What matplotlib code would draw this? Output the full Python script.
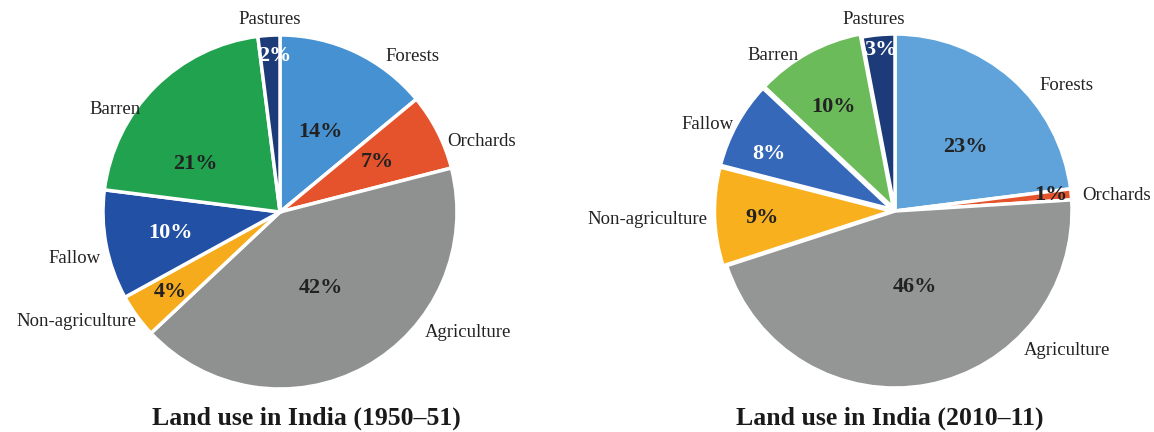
import matplotlib.pyplot as plt

# Land use categories (clockwise from the top)
categories = ['Forests', 'Orchards', 'Agriculture', 'Non-agriculture',
              'Fallow', 'Barren', 'Pastures']
share_1950 = [14, 7, 42, 4, 10, 21, 2]
share_2010 = [23, 1, 46, 9, 8, 10, 3]

colors_1950 = ['#4591d2', '#e4532c', '#8f9191', '#f6ab1d',
               '#2250a4', '#20a24f', '#1d3b78']
colors_2010 = ['#5fa3da', '#e4532c', '#949696', '#f8b01f',
               '#3568b8', '#6cbb5a', '#1d3b78']
# white percentage text on dark slices
pct_white_1950 = [False, False, False, False, True, False, True]
pct_white_2010 = [False, False, False, False, True, False, True]

# label / percent placement in pie units (radius = 1)
label_pos_1950 = [(0.75, 0.88), (1.14, 0.40), (1.06, -0.68), (-1.15, -0.62),
                  (-1.16, -0.26), (-0.93, 0.58), (-0.06, 1.09)]
pct_pos_1950 = [(0.23, 0.45), (0.55, 0.28), (0.23, -0.43), (-0.62, -0.45),
                (-0.62, -0.12), (-0.48, 0.27), (-0.03, 0.88)]
label_pos_2010 = [(0.97, 0.71), (1.25, 0.09), (0.97, -0.79), (-1.40, -0.05),
                  (-1.06, 0.49), (-0.69, 0.88), (-0.12, 1.08)]
pct_pos_2010 = [(0.40, 0.36), (0.88, 0.09), (0.11, -0.43), (-0.75, -0.04),
                (-0.71, 0.32), (-0.35, 0.59), (-0.08, 0.91)]
explode_2010 = [0, 0, 0, 0.02, 0.02, 0.02, 0]

plt.rcParams['font.family'] = ['Liberation Serif', 'DejaVu Serif']

W, H = 1154, 432
fig = plt.figure(figsize=(W / 100, H / 100), dpi=100)


def draw_pie(cx, cy, r, values, colors, labels_xy, pct_xy, white, title,
             explode=None):
    ax = fig.add_axes([(cx - r) / W, (H - cy - r) / H, 2 * r / W, 2 * r / H])
    ax.pie(values, colors=colors, startangle=90, counterclock=False,
           explode=explode, radius=1,
           wedgeprops=dict(edgecolor='white', linewidth=2.5))
    ax.set_xlim(-1, 1)
    ax.set_ylim(-1, 1)
    ax.set_aspect('equal')
    ax.axis('off')
    for name, (x, y) in zip(categories, labels_xy):
        ax.text(x, y, name, ha='center', va='center', fontsize=13.5,
                color='#222222', clip_on=False)
    for v, (x, y), w in zip(values, pct_xy, white):
        ax.text(x, y, f'{v}%', ha='center', va='center', fontsize=16,
                fontweight='bold', color='white' if w else '#222222')
    return ax


draw_pie(280, 212, 177, share_1950, colors_1950, label_pos_1950,
         pct_pos_1950, pct_white_1950, 'Land use in India (1950–51)')
draw_pie(895, 211, 177, share_2010, colors_2010, label_pos_2010,
         pct_pos_2010, pct_white_2010, 'Land use in India (2010–11)',
         explode=explode_2010)

fig.text(306 / W, 1 - 418 / H, 'Land use in India (1950–51)', ha='center',
         va='center', fontsize=18.5, fontweight='bold', color='#1a1a1a')
fig.text(890 / W, 1 - 418 / H, 'Land use in India (2010–11)', ha='center',
         va='center', fontsize=18.5, fontweight='bold', color='#1a1a1a')

fig.savefig('out.png', dpi=100)
